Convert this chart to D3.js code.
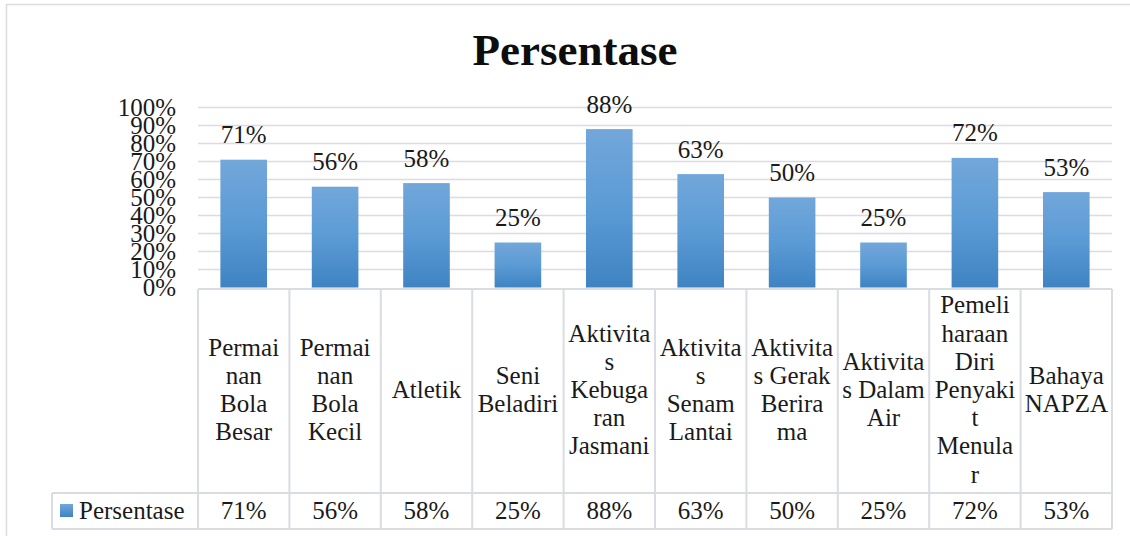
<!DOCTYPE html>
<html>
<head>
<meta charset="utf-8">
<script src="https://cdn.jsdelivr.net/npm/d3@7"></script>
<style>
html,body{margin:0;padding:0;background:#fff;}
svg{display:block;}
text{font-family:"Liberation Serif","Times New Roman",serif;fill:#1a1a1a;}
</style>
</head>
<body>
<svg id="chart" width="1130" height="536"></svg>
<script>
const title = "Persentase";
const seriesName = "Persentase";
const categories = [
  "Permainan Bola Besar","Permainan Bola Kecil","Atletik","Seni Beladiri",
  "Aktivitas Kebugaran Jasmani","Aktivitas Senam Lantai","Aktivitas Gerak Berirama",
  "Aktivitas Dalam Air","Pemeliharaan Diri Penyakit Menular","Bahaya NAPZA"
];
const categoryLines = [
  ["Permai","nan","Bola","Besar"],
  ["Permai","nan","Bola","Kecil"],
  ["Atletik"],
  ["Seni","Beladiri"],
  ["Aktivita","s","Kebuga","ran","Jasmani"],
  ["Aktivita","s","Senam","Lantai"],
  ["Aktivita","s Gerak","Berira","ma"],
  ["Aktivita","s Dalam","Air"],
  ["Pemeli","haraan","Diri","Penyaki","t","Menula","r"],
  ["Bahaya","NAPZA"]
];
const values = [0.71,0.56,0.58,0.25,0.88,0.63,0.50,0.25,0.72,0.53];
const tickValues = [0,0.1,0.2,0.3,0.4,0.5,0.6,0.7,0.8,0.9,1.0];
const tickLabels = ["0%","10%","20%","30%","40%","50%","60%","70%","80%","90%","100%"];

const svg = d3.select("#chart");
const fmt = d3.format(".0%");

// outer chart border
svg.append("rect").attr("x",6.5).attr("y",4.5).attr("width",1140).attr("height",545)
  .attr("fill","none").attr("stroke","#d9dce1").attr("stroke-width",1.5);

const left = 198, right = 1112, y0 = 287.5, y1 = 107.5;
const x = d3.scaleBand().domain(categories).range([left,right]).paddingInner(0).paddingOuter(0);
const y = d3.scaleLinear().domain([0,1]).range([y0,y1]);

// gradient
const defs = svg.append("defs");
const grad = defs.append("linearGradient").attr("id","barGrad").attr("x1",0).attr("y1",0).attr("x2",0).attr("y2",1);
grad.append("stop").attr("offset","0%").attr("stop-color","#72a7da");
grad.append("stop").attr("offset","50%").attr("stop-color","#5b9bd5");
grad.append("stop").attr("offset","100%").attr("stop-color","#3f83c3");

// title
svg.append("text").attr("x",575).attr("y",65).attr("text-anchor","middle")
  .style("font-size","45px").style("font-weight","bold").style("fill","#0d0d0d").text(title);

// gridlines
svg.append("g").selectAll("line").data(tickValues.slice(1)).join("line")
  .attr("x1",left).attr("x2",right)
  .attr("y1",d=>y(d)).attr("y2",d=>y(d))
  .attr("stroke","#d9dce1").attr("stroke-width",1.5);

// y axis
const yAxis = d3.axisLeft(y).tickValues(tickValues)
  .tickFormat((d,i)=>tickLabels[i]).tickSize(0).tickPadding(22);
const ga = svg.append("g").attr("transform",`translate(${left},0)`).call(yAxis);
ga.select(".domain").remove();
ga.selectAll("text").style("font-size","25px").style("font-family","'Liberation Serif',serif").attr("fill","#1a1a1a");

// bars
const bw = x.bandwidth()*0.51;
svg.append("g").selectAll("rect").data(values).join("rect")
  .attr("x",(d,i)=>x(categories[i])+x.bandwidth()/2-bw/2)
  .attr("width",bw)
  .attr("y",d=>y(d))
  .attr("height",d=>y0-y(d))
  .attr("fill","url(#barGrad)");

// data labels
svg.append("g").selectAll("text").data(values).join("text")
  .attr("x",(d,i)=>x(categories[i])+x.bandwidth()/2)
  .attr("y",d=>y(d)-16.5)
  .attr("text-anchor","middle").style("font-size","25px")
  .text(d=>fmt(d));

// data table
const tTop = 289, tMid = 493, tBot = 529, legLeft = 52;
const bc = "#d9dce1";
const tg = svg.append("g");
tg.append("line").attr("x1",left).attr("x2",right).attr("y1",tTop).attr("y2",tTop).attr("stroke",bc).attr("stroke-width",2);
tg.append("line").attr("x1",legLeft).attr("x2",right).attr("y1",tMid).attr("y2",tMid).attr("stroke",bc).attr("stroke-width",2);
tg.append("line").attr("x1",legLeft).attr("x2",right).attr("y1",tBot).attr("y2",tBot).attr("stroke",bc).attr("stroke-width",2);
tg.append("line").attr("x1",legLeft).attr("x2",legLeft).attr("y1",tMid).attr("y2",tBot).attr("stroke",bc).attr("stroke-width",2);
const edges = categories.map(c=>x(c)).concat([right]);
tg.selectAll("line.v").data(edges).join("line").attr("class","v")
  .attr("x1",d=>d).attr("x2",d=>d).attr("y1",tTop).attr("y2",tBot)
  .attr("stroke",bc).attr("stroke-width",2);

// category labels
const lh = 28.2, cellMid = (tTop+tMid)/2 + 7;
categories.forEach((c,i)=>{
  const lines = categoryLines[i];
  const n = lines.length;
  const t = tg.append("text").attr("text-anchor","middle").style("font-size","25px");
  lines.forEach((ln,j)=>{
    t.append("tspan").attr("x",x(c)+x.bandwidth()/2)
      .attr("y",cellMid + (j-(n-1)/2)*lh).text(ln);
  });
});

// values row
tg.selectAll("text.val").data(values).join("text").attr("class","val")
  .attr("x",(d,i)=>x(categories[i])+x.bandwidth()/2)
  .attr("y",519).attr("text-anchor","middle").style("font-size","25px")
  .text(d=>fmt(d));

// legend key
const lgGrad = defs.append("linearGradient").attr("id","legGrad").attr("x1",0).attr("y1",0).attr("x2",0).attr("y2",1);
lgGrad.append("stop").attr("offset","0%").attr("stop-color","#72a7da");
lgGrad.append("stop").attr("offset","100%").attr("stop-color","#3f83c3");
tg.append("rect").attr("x",60).attr("y",504).attr("width",13).attr("height",13).attr("fill","url(#legGrad)");
tg.append("text").attr("x",79).attr("y",519).style("font-size","25px").text(seriesName);
</script>
</body>
</html>
